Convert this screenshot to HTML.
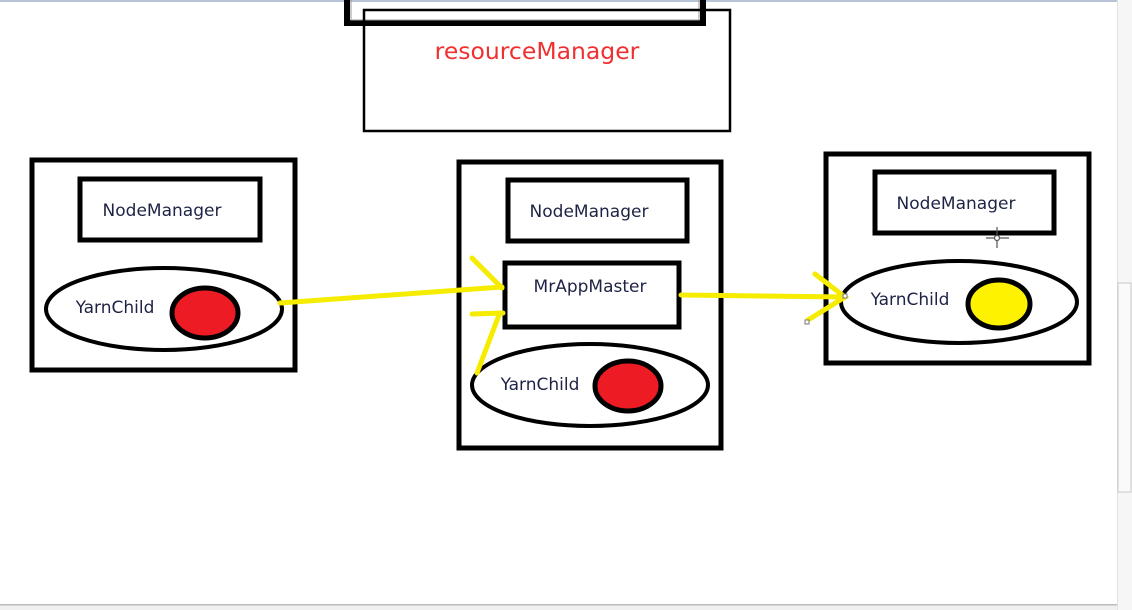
<!DOCTYPE html>
<html><head><meta charset="utf-8"><style>
html,body{margin:0;padding:0;background:#fff;width:1132px;height:610px;overflow:hidden}
svg{display:block}
text{font-family:"DejaVu Sans","Liberation Sans",sans-serif;font-size:17px;fill:#1e2345}
</style></head><body>
<svg width="1132" height="610" viewBox="0 0 1132 610" xmlns="http://www.w3.org/2000/svg">
<rect x="0" y="0" width="1132" height="2" fill="#b8c4d8"/>
<rect x="347" y="-10" width="356" height="33" fill="none" stroke="#000" stroke-width="6"/>
<rect x="351" y="-10" width="348" height="30" fill="none" stroke="#999" stroke-width="1"/>
<rect x="364" y="10" width="366" height="121" fill="none" stroke="#000" stroke-width="2.5"/>
<text x="537" y="59" text-anchor="middle" style="font-size:23.5px;fill:#f03030">resourceManager</text>

<rect x="32" y="160" width="263" height="210" fill="none" stroke="#000" stroke-width="5"/>
<rect x="80" y="179" width="180" height="61" fill="none" stroke="#000" stroke-width="5"/>
<text x="162" y="216" text-anchor="middle">NodeManager</text>
<ellipse cx="164" cy="309" rx="118" ry="41" fill="#fff" stroke="#000" stroke-width="4"/>
<text x="115" y="313" text-anchor="middle">YarnChild</text>
<ellipse cx="205" cy="313" rx="33" ry="25" fill="#ed1c24" stroke="#000" stroke-width="5"/>

<rect x="459" y="162" width="262" height="286" fill="none" stroke="#000" stroke-width="5"/>
<rect x="508" y="180" width="179" height="61" fill="none" stroke="#000" stroke-width="5"/>
<text x="589" y="217" text-anchor="middle">NodeManager</text>
<rect x="505" y="263" width="174" height="64" fill="#fff" stroke="#000" stroke-width="5"/>
<text x="590" y="292" text-anchor="middle">MrAppMaster</text>
<ellipse cx="590" cy="385" rx="118" ry="41" fill="#fff" stroke="#000" stroke-width="4"/>
<text x="540" y="390" text-anchor="middle">YarnChild</text>
<ellipse cx="628" cy="386" rx="33" ry="25" fill="#ed1c24" stroke="#000" stroke-width="5"/>

<rect x="826" y="154" width="263" height="209" fill="none" stroke="#000" stroke-width="5"/>
<rect x="875" y="172" width="179" height="61" fill="none" stroke="#000" stroke-width="5"/>
<text x="956" y="209" text-anchor="middle">NodeManager</text>
<ellipse cx="959" cy="302" rx="118" ry="41" fill="#fff" stroke="#000" stroke-width="4"/>
<text x="910" y="305" text-anchor="middle">YarnChild</text>
<ellipse cx="999" cy="304" rx="31" ry="24" fill="#fff200" stroke="#000" stroke-width="5"/>

<g stroke="#f5ec00" stroke-width="5" fill="none" stroke-linecap="round">
<path d="M280 303 L502 287"/>
<path d="M472 258 L502 288"/>
<path d="M472 314 L503 313"/>
<path d="M477 373 L499 315"/>
<path d="M681 295 L845 297"/>
<path d="M815 274 L845 297 L808 320"/>
</g>
<rect x="843" y="294" width="4" height="4" fill="#fff" stroke="#777" stroke-width="1"/>
<rect x="805" y="320" width="4" height="4" fill="#fff" stroke="#777" stroke-width="1"/>
<g stroke="#555" stroke-width="1.2">
<path d="M997 227 L997 248 M986 238 L1009 238"/>
<circle cx="997" cy="238" r="2.5" fill="#fff"/>
</g>
<rect x="1117" y="0" width="15" height="610" fill="#f6f6f6"/>
<rect x="1117" y="0" width="1" height="610" fill="#e2e2e2"/>
<rect x="1118" y="283" width="13" height="209" fill="#fafafa" stroke="#c8c8c8" stroke-width="1"/>
<rect x="0" y="604" width="1117" height="6" fill="#f0f0f0"/>
<rect x="0" y="604" width="1117" height="1.5" fill="#bdbdbd"/>
</svg>
</body></html>
